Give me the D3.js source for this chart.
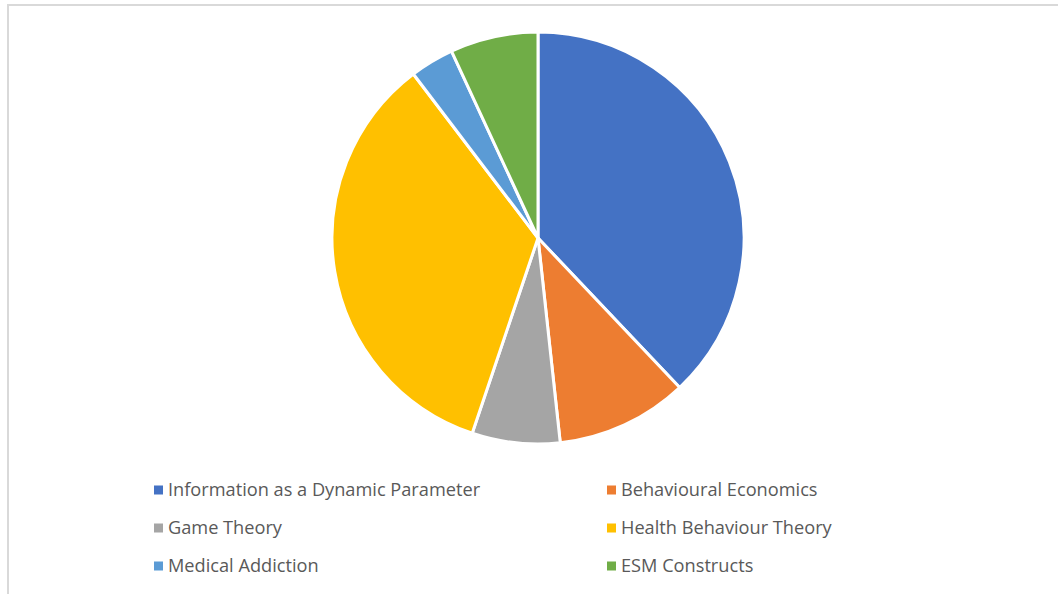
<!DOCTYPE html>
<html>
<head>
<meta charset="utf-8">
<script src="https://cdn.jsdelivr.net/npm/d3@7"></script>
<style>
  html, body { margin: 0; padding: 0; background: #fff; }
  svg { display: block; }
</style>
</head>
<body>
<svg id="chart" width="1058" height="594"></svg>
<script>
// Theory categories and their counts
const categories = [
  "Information as a Dynamic Parameter",
  "Behavioural Economics",
  "Game Theory",
  "Health Behaviour Theory",
  "Medical Addiction",
  "ESM Constructs"
];
const counts = [11, 3, 2, 10, 1, 2];
const colors = ["#4472c4", "#ed7d31", "#a5a5a5", "#ffc000", "#5b9bd5", "#70ad47"];

const svg = d3.select("#chart");

// chart area frame
svg.append("rect")
  .attr("x", 8).attr("y", 5)
  .attr("width", 1100).attr("height", 700)
  .attr("fill", "none")
  .attr("stroke", "#d9d9d9")
  .attr("stroke-width", 2);

const data = categories.map((c, i) => ({ name: c, value: counts[i], color: colors[i] }));

const cx = 538, cy = 238, r = 206;
const pie = d3.pie().value(d => d.value).sort(null);
const arc = d3.arc().innerRadius(0).outerRadius(r);

svg.append("g")
  .attr("transform", `translate(${cx},${cy})`)
  .selectAll("path")
  .data(pie(data))
  .join("path")
  .attr("d", arc)
  .attr("fill", d => d.data.color)
  .attr("stroke", "#fff")
  .attr("stroke-width", 3)
  .attr("stroke-linejoin", "round");

// legend: two columns, three rows
const colX = [154, 607];
const rowY = [490, 528, 566];
const legend = svg.append("g")
  .selectAll("g")
  .data(data)
  .join("g")
  .attr("transform", (d, i) => `translate(${colX[i % 2]},${rowY[Math.floor(i / 2)]})`);

legend.append("rect")
  .attr("x", 0).attr("y", -4.5)
  .attr("width", 9).attr("height", 9)
  .attr("fill", d => d.color);

legend.append("text")
  .attr("x", 14).attr("y", 0)
  .attr("dy", "0.35em")
  .attr("font-family", "'Open Sans', 'Noto Sans', sans-serif")
  .attr("font-size", 18.2)
  .attr("fill", "#595959")
  .text(d => d.name);
</script>
</body>
</html>
